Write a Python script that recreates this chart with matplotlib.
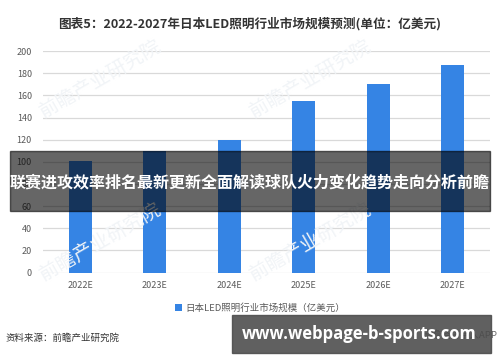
import matplotlib.pyplot as plt
from matplotlib.patches import Rectangle

plt.rcParams['font.family'] = ['Noto Sans CJK SC', 'DejaVu Sans']

# 数据
years = ['2022E', '2023E', '2024E', '2025E', '2026E', '2027E']
market_size = [101, 110, 120, 155, 170, 187]
yticks = [0, 20, 40, 60, 80, 100, 120, 140, 160, 180, 200]

title = '图表5：2022-2027年日本LED照明行业市场规模预测(单位：亿美元)'
legend_label = '日本LED照明行业市场规模（亿美元）'
source = '资料来源：前瞻产业研究院'
banner = '联赛进攻效率排名最新更新全面解读球队火力变化趋势走向分析前瞻'
site = 'www.webpage-b-sports.com'

fig = plt.figure(figsize=(5, 3.62), dpi=100)
ax = fig.add_axes([0.086, 0.247, 0.894, 0.612])

bars = ax.bar(years, market_size, width=0.31, color='#3584e4',
              label=legend_label, zorder=3)

ax.set_ylim(0, 200)
ax.set_xlim(-0.5, len(years) - 0.5)
ax.set_yticks(yticks)
ax.grid(axis='y', color='#d9d9d9', linewidth=0.9, zorder=0)
for s in ax.spines.values():
    s.set_visible(False)
ax.tick_params(axis='both', length=0, labelsize=6.5, colors='#595959')
ax.tick_params(axis='y', pad=8)
ax.tick_params(axis='x', pad=6)

# 水印
for (wx, wy) in [(0.2, 0.78), (0.62, 0.78), (0.2, 0.33), (0.62, 0.33)]:
    fig.text(wx, wy, '前瞻产业研究院', fontsize=14, color='#f1f4f7',
             rotation=30, ha='center', va='center', zorder=1)

fig.text(0.5, 0.935, title, ha='center', va='center', fontsize=9.1,
         fontweight='bold', color='#333333')

ax.legend(loc='center', bbox_to_anchor=(0.52, 0.149),
          bbox_transform=fig.transFigure, frameon=False, fontsize=6.8,
          handlelength=0.7, handleheight=0.7, handletextpad=0.3,
          labelcolor='#595959')

fig.text(0.012, 0.067, source, ha='left', va='center', fontsize=6.8,
         color='#333333')
fig.text(0.995, 0.075, '前瞻经济学人APP', ha='right', va='center',
         fontsize=6.8, color='#666666')

# 遮盖横幅
fig.patches.append(Rectangle((0.02, 0.418), 0.96, 0.166,
                             transform=fig.transFigure, color='black',
                             alpha=0.6, zorder=5))
fig.text(0.5, 0.497, banner, ha='center', va='center', fontsize=11.5,
         fontweight='bold', color='white', zorder=6)

fig.patches.append(Rectangle((0.464, 0.026), 0.518, 0.104,
                             transform=fig.transFigure, color='#4a4a4a',
                             alpha=0.88, zorder=5))
fig.text(0.718, 0.078, site, ha='center', va='center', fontsize=12,
         fontweight='bold', color='white', zorder=6,
         family=['Open Sans', 'DejaVu Sans'])

fig.savefig('out.png', dpi=100)
